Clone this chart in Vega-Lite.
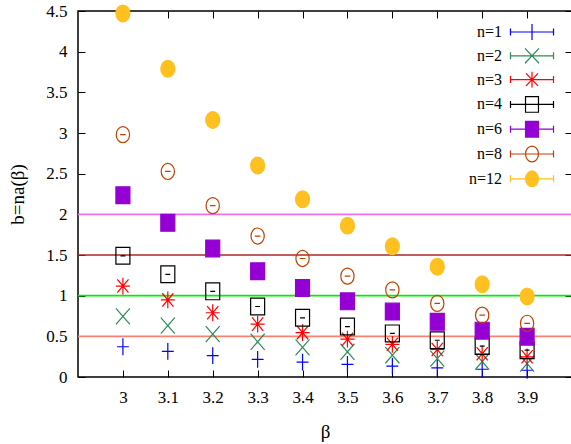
{
  "$schema": "https://vega.github.io/schema/vega-lite/v6.json",
  "width": 494,
  "height": 366,
  "autosize": "none",
  "padding": {"left": 78, "top": 11, "right": 0, "bottom": 67},
  "background": "white",
  "config": {
    "view": {"stroke": "black", "strokeWidth": 1.5},
    "axis": {"domain": false, "grid": false, "ticks": true, "tickColor": "black", "tickWidth": 1, "tickSize": -7, "labelFont": "Liberation Serif, Times New Roman, serif", "labelFontSize": 17, "labelColor": "black", "titleFont": "Liberation Serif, Times New Roman, serif", "titleColor": "black", "titleFontWeight": "normal"}
  },
  "datasets": {
    "pts": [
      {"n": "n=1", "beta": 3.0, "b": 0.372}, {"n": "n=1", "beta": 3.1, "b": 0.316}, {"n": "n=1", "beta": 3.2, "b": 0.263}, {"n": "n=1", "beta": 3.3, "b": 0.217}, {"n": "n=1", "beta": 3.4, "b": 0.182}, {"n": "n=1", "beta": 3.5, "b": 0.155}, {"n": "n=1", "beta": 3.6, "b": 0.134}, {"n": "n=1", "beta": 3.7, "b": 0.113}, {"n": "n=1", "beta": 3.8, "b": 0.095}, {"n": "n=1", "beta": 3.9, "b": 0.083},
      {"n": "n=2", "beta": 3.0, "b": 0.745}, {"n": "n=2", "beta": 3.1, "b": 0.632}, {"n": "n=2", "beta": 3.2, "b": 0.527}, {"n": "n=2", "beta": 3.3, "b": 0.433}, {"n": "n=2", "beta": 3.4, "b": 0.364}, {"n": "n=2", "beta": 3.5, "b": 0.31}, {"n": "n=2", "beta": 3.6, "b": 0.268}, {"n": "n=2", "beta": 3.7, "b": 0.226}, {"n": "n=2", "beta": 3.8, "b": 0.19}, {"n": "n=2", "beta": 3.9, "b": 0.165},
      {"n": "n=3", "beta": 3.0, "b": 1.118}, {"n": "n=3", "beta": 3.1, "b": 0.948}, {"n": "n=3", "beta": 3.2, "b": 0.79}, {"n": "n=3", "beta": 3.3, "b": 0.65}, {"n": "n=3", "beta": 3.4, "b": 0.546}, {"n": "n=3", "beta": 3.5, "b": 0.465}, {"n": "n=3", "beta": 3.6, "b": 0.402}, {"n": "n=3", "beta": 3.7, "b": 0.339}, {"n": "n=3", "beta": 3.8, "b": 0.285}, {"n": "n=3", "beta": 3.9, "b": 0.248},
      {"n": "n=4", "beta": 3.0, "b": 1.49}, {"n": "n=4", "beta": 3.1, "b": 1.263}, {"n": "n=4", "beta": 3.2, "b": 1.053}, {"n": "n=4", "beta": 3.3, "b": 0.867}, {"n": "n=4", "beta": 3.4, "b": 0.728}, {"n": "n=4", "beta": 3.5, "b": 0.62}, {"n": "n=4", "beta": 3.6, "b": 0.536}, {"n": "n=4", "beta": 3.7, "b": 0.452}, {"n": "n=4", "beta": 3.8, "b": 0.38}, {"n": "n=4", "beta": 3.9, "b": 0.33},
      {"n": "n=6", "beta": 3.0, "b": 2.235}, {"n": "n=6", "beta": 3.1, "b": 1.895}, {"n": "n=6", "beta": 3.2, "b": 1.58}, {"n": "n=6", "beta": 3.3, "b": 1.3}, {"n": "n=6", "beta": 3.4, "b": 1.093}, {"n": "n=6", "beta": 3.5, "b": 0.93}, {"n": "n=6", "beta": 3.6, "b": 0.804}, {"n": "n=6", "beta": 3.7, "b": 0.679}, {"n": "n=6", "beta": 3.8, "b": 0.57}, {"n": "n=6", "beta": 3.9, "b": 0.495},
      {"n": "n=8", "beta": 3.0, "b": 2.98}, {"n": "n=8", "beta": 3.1, "b": 2.527}, {"n": "n=8", "beta": 3.2, "b": 2.107}, {"n": "n=8", "beta": 3.3, "b": 1.733}, {"n": "n=8", "beta": 3.4, "b": 1.457}, {"n": "n=8", "beta": 3.5, "b": 1.24}, {"n": "n=8", "beta": 3.6, "b": 1.071}, {"n": "n=8", "beta": 3.7, "b": 0.905}, {"n": "n=8", "beta": 3.8, "b": 0.76}, {"n": "n=8", "beta": 3.9, "b": 0.66},
      {"n": "n=12", "beta": 3.0, "b": 4.47}, {"n": "n=12", "beta": 3.1, "b": 3.79}, {"n": "n=12", "beta": 3.2, "b": 3.16}, {"n": "n=12", "beta": 3.3, "b": 2.6}, {"n": "n=12", "beta": 3.4, "b": 2.185}, {"n": "n=12", "beta": 3.5, "b": 1.86}, {"n": "n=12", "beta": 3.6, "b": 1.607}, {"n": "n=12", "beta": 3.7, "b": 1.357}, {"n": "n=12", "beta": 3.8, "b": 1.14}, {"n": "n=12", "beta": 3.9, "b": 0.99}
    ]
  },
  "resolve": {
    "axis": {"x": "independent", "y": "independent"},
    "scale": {"color": "independent", "shape": "independent", "stroke": "independent", "fill": "independent"}
  },
  "layer": [
    {
      "data": {"values": [{"level": 2, "line": "y=2"}, {"level": 1.5, "line": "y=1.5"}, {"level": 1, "line": "y=1"}, {"level": 0.5, "line": "y=0.5"}]},
      "mark": {"type": "rule", "strokeWidth": 1.6},
      "encoding": {
        "y": {"field": "level", "type": "quantitative", "axis": null},
        "color": {"field": "line", "type": "nominal", "scale": {"domain": ["y=2", "y=1.5", "y=1", "y=0.5"], "range": ["#f070f0", "#a52a2a", "#00ee00", "#fa8072"]}, "legend": null}
      }
    },
    {
      "data": {"name": "pts"},
      "mark": {"type": "point", "filled": true, "strokeWidth": 1.2, "opacity": 1, "size": 196},
      "encoding": {
        "x": {"field": "beta", "type": "quantitative", "scale": {"domain": [2.9, 4.0], "nice": false, "zero": false},
              "axis": {"orient": "bottom", "values": [3, 3.1, 3.2, 3.3, 3.4, 3.5, 3.6, 3.7, 3.8, 3.9], "format": "~g", "title": "β", "titleFontSize": 19, "labelPadding": 19, "titlePadding": 17}},
        "y": {"field": "b", "type": "quantitative", "scale": {"domain": [0, 4.5], "nice": false, "zero": false},
              "axis": {"orient": "left", "values": [0, 0.5, 1, 1.5, 2, 2.5, 3, 3.5, 4, 4.5], "format": "~g", "title": "b=na(β)", "titleFontSize": 19, "labelPadding": 18, "titlePadding": 18}},
        "shape": {"field": "n", "type": "nominal",
                  "scale": {"domain": ["n=1", "n=2", "n=3", "n=4", "n=6", "n=8", "n=12"],
                            "range": ["M-0.85,0H0.85M0,-1.2V1.2", "M-1,-1.15L1,1.15M-1,1.15L1,-1.15", "M-1,0H1M0,-1.2V1.2M-0.8,-0.95L0.8,0.95M-0.8,0.95L0.8,-0.95", "M-1,-1.2H1V1.2H-1ZM-0.35,0H0.35", "M-1,-1.2H1V1.2H-1Z", "M-0.95,0A0.95,1.15 0 1,0 0.95,0A0.95,1.15 0 1,0 -0.95,0ZM-0.4,0H0.4", "M-1,0A1,1.2 0 1,0 1,0A1,1.2 0 1,0 -1,0Z"]},
                  "legend": null},
        "stroke": {"field": "n", "type": "nominal",
                   "scale": {"domain": ["n=1", "n=2", "n=3", "n=4", "n=6", "n=8", "n=12"], "range": ["#0000ff", "#2e8b57", "#ff0000", "#000000", "#9400d3", "#c04000", "#ffc020"]},
                   "legend": null},
        "fill": {"field": "n", "type": "nominal",
                 "scale": {"domain": ["n=1", "n=2", "n=3", "n=4", "n=6", "n=8", "n=12"], "range": ["transparent", "transparent", "transparent", "transparent", "#9400d3", "transparent", "#ffc020"]},
                 "legend": null}
      }
    },
    {
      "data": {"name": "pts"},
      "transform": [{"filter": "datum.b < 0"}],
      "mark": {"type": "point", "filled": false, "strokeWidth": 1.2, "opacity": 1, "size": 324},
      "encoding": {
        "x": {"field": "beta", "type": "quantitative", "axis": null},
        "y": {"field": "b", "type": "quantitative", "axis": null},
        "color": {"field": "n", "type": "nominal",
                  "scale": {"domain": ["n=1", "n=2", "n=3", "n=4", "n=6", "n=8", "n=12"], "range": ["#0000ff", "#2e8b57", "#ff0000", "#000000", "#9400d3", "#c04000", "#ffc020"]},
                  "legend": {"title": null, "orient": "none", "legendX": 444, "legendY": 11, "padding": 0, "labelAlign": "right", "labelOffset": -40, "labelFont": "Liberation Serif, Times New Roman, serif", "labelFontSize": 16, "labelColor": "black", "rowPadding": 2.8, "symbolSize": 324, "symbolStrokeWidth": 1.2, "symbolOpacity": 1}},
        "shape": {"field": "n", "type": "nominal",
                  "scale": {"domain": ["n=1", "n=2", "n=3", "n=4", "n=6", "n=8", "n=12"],
                            "range": [
                              "M-2.39,0H2.39M-2.39,-0.39V0.39M2.39,-0.39V0.39M0,-0.88V0.88",
                              "M-2.39,0H2.39M-2.39,-0.39V0.39M2.39,-0.39V0.39M-0.78,-0.83L0.78,0.83M-0.78,0.83L0.78,-0.83",
                              "M-2.39,0H2.39M-2.39,-0.39V0.39M2.39,-0.39V0.39M0,-0.88V0.88M-0.67,-0.7L0.67,0.7M-0.67,0.7L0.67,-0.7",
                              "M-2.39,0H2.39M-2.39,-0.39V0.39M2.39,-0.39V0.39M-0.72,-0.87H0.72V0.87H-0.72Z",
                              "M-2.39,0H2.39M-2.39,-0.39V0.39M2.39,-0.39V0.39M-0.72,-0.87H0.72V0.87H-0.72ZM-0.72,-0.78H0.72M-0.72,-0.67H0.72M-0.72,-0.56H0.72M-0.72,-0.44H0.72M-0.72,-0.33H0.72M-0.72,-0.22H0.72M-0.72,-0.11H0.72M-0.72,0.11H0.72M-0.72,0.22H0.72M-0.72,0.33H0.72M-0.72,0.44H0.72M-0.72,0.56H0.72M-0.72,0.67H0.72M-0.72,0.78H0.72",
                              "M-2.39,0H2.39M-2.39,-0.39V0.39M2.39,-0.39V0.39M0.72,0C0.72,0.48 0.398,0.87 0,0.87C-0.398,0.87 -0.72,0.48 -0.72,0C-0.72,-0.48 -0.398,-0.87 0,-0.87C0.398,-0.87 0.72,-0.48 0.72,0Z",
                              "M-2.39,0H2.39M-2.39,-0.39V0.39M2.39,-0.39V0.39M0.72,0C0.72,0.48 0.398,0.87 0,0.87C-0.398,0.87 -0.72,0.48 -0.72,0C-0.72,-0.48 -0.398,-0.87 0,-0.87C0.398,-0.87 0.72,-0.48 0.72,0ZM-0.717,-0.11H0.717M-0.717,0.11H0.717M-0.699,-0.22H0.699M-0.699,0.22H0.699M-0.67,-0.33H0.67M-0.67,0.33H0.67M-0.626,-0.44H0.626M-0.626,0.44H0.626M-0.56,-0.56H0.56M-0.56,0.56H0.56M-0.47,-0.67H0.47M-0.47,0.67H0.47M-0.33,-0.78H0.33M-0.33,0.78H0.33"
                            ]},
                  "legend": {"title": null, "orient": "none", "legendX": 444, "legendY": 11, "padding": 0, "labelAlign": "right", "labelOffset": -40, "labelFont": "Liberation Serif, Times New Roman, serif", "labelFontSize": 16, "labelColor": "black", "rowPadding": 2.8, "symbolSize": 324, "symbolStrokeWidth": 1.2, "symbolOpacity": 1}}
      }
    },
    {
      "mark": {"type": "text", "text": "b=na(β) versus β", "font": "DejaVu Sans", "fontSize": 17.5, "align": "center", "baseline": "middle", "color": "black"},
      "encoding": {
        "x": {"datum": 3.441, "type": "quantitative", "axis": {"orient": "top", "values": [3, 3.1, 3.2, 3.3, 3.4, 3.5, 3.6, 3.7, 3.8, 3.9], "labels": false, "title": null}},
        "y": {"datum": 3.61, "type": "quantitative", "axis": {"orient": "right", "values": [0, 0.5, 1, 1.5, 2, 2.5, 3, 3.5, 4, 4.5], "labels": false, "title": null}}
      }
    }
  ]
}
